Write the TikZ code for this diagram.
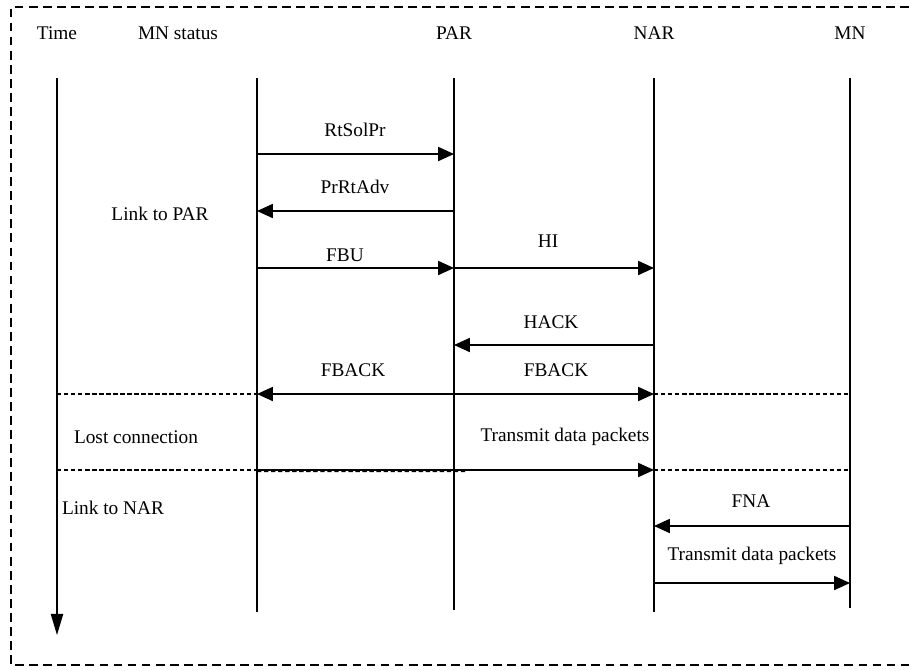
\documentclass[tikz,border=0pt]{standalone}
\usepackage{fontspec}
\setmainfont{Liberation Serif}
\usetikzlibrary{arrows.meta}
\begin{document}
\begin{tikzpicture}[x=0.02cm,y=-0.02cm,
  lbl/.style={font=\fontsize{11}{13}\selectfont,inner sep=0pt},
  life/.style={line width=0.8pt},
  msg/.style={line width=0.8pt,-{Triangle[length=9pt,width=8pt]}},
  dmsg/.style={line width=0.8pt,{Triangle[length=9pt,width=8pt]}-{Triangle[length=9pt,width=8pt]}},
  sep/.style={line width=0.8pt,dash pattern=on 2.5pt off 1.5pt},
  frame/.style={line width=1pt,dash pattern=on 5pt off 3pt}]
\useasboundingbox (0,0) rectangle (909,670);
\draw[frame] (909,7) -- (11,7) -- (11,665) -- (909,665);
% headings
\node[lbl] (hT) at (57,33) {Time};
\node[lbl] (hS) at (178,33) {MN status};
\node[lbl] (hP) at (454,33) {PAR};
\node[lbl] (hN) at (654,33) {NAR};
\node[lbl] (hM) at (850,33) {MN};
% lifelines
\coordinate (t0) at (57,78);  \coordinate (t1) at (57,635);
\coordinate (s0) at (257,78); \coordinate (s1) at (257,612);
\coordinate (p0) at (454,78); \coordinate (p1) at (454,610);
\coordinate (n0) at (654,78); \coordinate (n1) at (654,612);
\coordinate (m0) at (850,78); \coordinate (m1) at (850,608);
\draw[life,-{Triangle[length=12pt,width=7pt]}] (t0) -- (t1);
\draw[life] (s0) -- (s1);
\draw[life] (p0) -- (p1);
\draw[life] (n0) -- (n1);
\draw[life] (m0) -- (m1);
% messages
\coordinate (a1) at (257,154); \coordinate (b1) at (454,154);
\draw[msg] (a1) -- (b1);
\node[lbl] (l1) at (355,130) {RtSolPr};
\coordinate (a2) at (454,211); \coordinate (b2) at (257,211);
\draw[msg] (a2) -- (b2);
\node[lbl] (l2) at (355,187) {PrRtAdv};
\node[lbl] (lpar) at (160,214) {Link to PAR};
\coordinate (a3) at (257,268); \coordinate (b3) at (454,268); \coordinate (c3) at (654,268);
\draw[msg] (a3) -- (b3);
\draw[msg] (b3) -- (c3);
\node[lbl] (l3) at (345,255) {FBU};
\node[lbl] (l4) at (548,241) {HI};
\coordinate (a5) at (654,345); \coordinate (b5) at (454,345);
\draw[msg] (a5) -- (b5);
\node[lbl] (l5) at (551,322) {HACK};
\coordinate (a6) at (257,394); \coordinate (b6) at (654,394);
\coordinate (t6) at (57,394); \coordinate (m6) at (850,394);
\draw[dmsg] (a6) -- (b6);
\draw[sep] (t6) -- (a6);
\draw[sep] (b6) -- (m6);
\node[lbl] (l6a) at (353,370) {FBACK};
\node[lbl] (l6b) at (556,370) {FBACK};
\node[lbl] (llc) at (136,437) {Lost connection};
\node[lbl] (l7) at (565,437) {Transmit data packets};
\coordinate (a7) at (257,470); \coordinate (b7) at (654,470);
\coordinate (t7) at (57,470); \coordinate (m7) at (850,470);
\coordinate (d7) at (465,471.5);
\draw[sep] (t7) -- (a7);
\draw[sep] ([yshift=-0.8pt]a7) -- (d7);
\draw[msg] (a7) -- (b7);
\draw[sep] (b7) -- (m7);
\node[lbl] (lnar) at (113,508) {Link to NAR};
\coordinate (a8) at (850,526); \coordinate (b8) at (654,526);
\draw[msg] (a8) -- (b8);
\node[lbl] (l8) at (751,501) {FNA};
\coordinate (a9) at (654,583); \coordinate (b9) at (850,583);
\draw[msg] (a9) -- (b9);
\node[lbl] (l9) at (752,556) {Transmit data packets};
\end{tikzpicture}
\end{document}
